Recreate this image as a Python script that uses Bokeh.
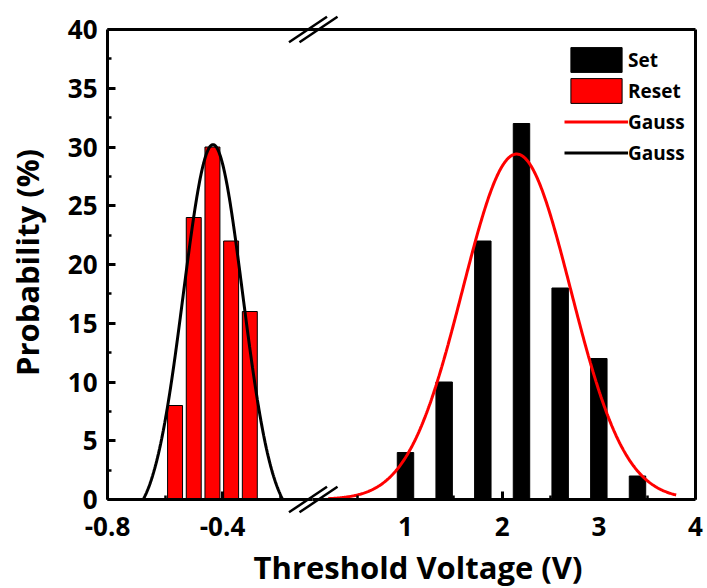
import numpy as np
from bokeh.plotting import figure
from bokeh.models import (Range1d, FixedTicker, LinearAxis, Legend, LegendItem,
                          Label, CustomJSTickFormatter)
from bokeh.embed import file_html
from bokeh.resources import INLINE

# ---------------- data ----------------
reset_voltage = [-0.565, -0.50, -0.435, -0.37, -0.305]
reset_prob = [8, 24, 30, 22, 16]
set_voltage = [1.0, 1.4, 1.8, 2.2, 2.6, 3.0, 3.4]
set_prob = [4, 10, 22, 32, 18, 12, 2]

# Gauss fits: y = y0 + H*exp(-2*(x-xc)^2/w^2), drawn over [from, to] where y >= 0
reset_gauss_y0, reset_gauss_H, reset_gauss_xc, reset_gauss_w = -2.0, 32.2, -0.433, 0.206
reset_gauss_from, reset_gauss_to = -0.75, -0.12
set_gauss_y0, set_gauss_H, set_gauss_xc, set_gauss_w = 0.0, 29.4, 2.15, 1.12
set_gauss_from, set_gauss_to = 0.2, 3.8

y_ticks = [0, 5, 10, 15, 20, 25, 30, 35, 40]
y_minor = [2.5, 7.5, 12.5, 17.5, 22.5, 27.5, 32.5, 37.5]
left_ticks = [-0.8, -0.4]
left_minor = [-0.6, -0.2]
right_ticks = [1, 2, 3, 4]
right_minor = [0.5, 1.5, 2.5, 3.5]

x_label = "Threshold Voltage (V)"
y_label = "Probability (%)"
legend_labels = ["Set", "Reset", "Gauss", "Gauss"]


def gauss_curve(y0, H, xc, w, x0, x1):
    xs = np.linspace(x0, x1, 500)
    ys = y0 + H * np.exp(-2.0 * (xs - xc) ** 2 / w ** 2)
    keep = ys >= 0
    return xs[keep], ys[keep]


# ---------------- layout (pixels) ----------------
# The plot frame covers the whole canvas; all axes are fixed at data locations
# so nothing (tick labels, titles) gets clipped.
FONT = "Open Sans"
RED = "#ff0000"
W, H = 705, 586
X_M08_PX, X4_PX = 107, 695          # x pixel of -0.8 (left edge) and of 4 (right edge)
Y40_PX, Y0_PX = 29, 499             # y pixel of 40 and of 0
BREAK_PX = 312                      # axis break position
LEFT_PX_PER_V = 287.5
RIGHT_PX_PER_V = 96.67
PX_PER_Y = (Y0_PX - Y40_PX) / 40.0

y_range = Range1d(-(H - Y0_PX) / PX_PER_Y, 40 + Y40_PX / PX_PER_Y)
main_xr = Range1d(4.0 - X4_PX / RIGHT_PX_PER_V, 4.0 + (W - X4_PX) / RIGHT_PX_PER_V)
left_xr = Range1d(-0.8 - X_M08_PX / LEFT_PX_PER_V, -0.8 + (W - X_M08_PX) / LEFT_PX_PER_V)
break_left = -0.8 + (BREAK_PX - X_M08_PX) / LEFT_PX_PER_V
break_right = 4.0 - (X4_PX - BREAK_PX) / RIGHT_PX_PER_V


def px_to_main(px):
    return 4.0 - (X4_PX - px) / RIGHT_PX_PER_V


p = figure(width=W, height=H, x_range=main_xr, y_range=y_range,
           output_backend="svg", toolbar_location=None,
           x_axis_location=None, y_axis_location=None, min_border=0)
p.extra_x_ranges = {"left": left_xr}
p.outline_line_color = None
p.grid.visible = False
p.background_fill_color = "white"
p.border_fill_color = "white"


def style_axis(ax, ticks=None, minor=None, show=True):
    ax.axis_line_width = 3
    ax.axis_line_color = "black"
    if show:
        ax.ticker = FixedTicker(ticks=ticks, minor_ticks=minor)
        ax.major_tick_line_width = 3
        ax.minor_tick_line_width = 2.5
        ax.major_tick_in = 8
        ax.major_tick_out = 0
        ax.minor_tick_in = 4
        ax.minor_tick_out = 0
        ax.major_label_text_font = FONT
        ax.major_label_text_font_style = "bold"
        ax.major_label_text_font_size = "26px"
        ax.major_label_text_color = "black"
        ax.major_label_standoff = 10
    else:
        ax.ticker = FixedTicker(ticks=[], minor_ticks=[])
        ax.major_tick_line_color = None
        ax.minor_tick_line_color = None
        ax.major_label_standoff = 0
        ax.axis_label_standoff = 0
        ax.major_label_text_font_size = "0px"


# y axis at x = -0.8
ya = LinearAxis(x_range_name="left", fixed_location=-0.8, bounds=(0, 40))
style_axis(ya, y_ticks, y_minor)
p.add_layout(ya, "left")

# bottom axis, left segment
xa_l = LinearAxis(x_range_name="left", fixed_location=0, bounds=(-0.8, break_left))
style_axis(xa_l, left_ticks, left_minor)
xa_l.formatter = CustomJSTickFormatter(code="return tick.toFixed(1)")
xa_l.major_label_standoff = 17
p.add_layout(xa_l, "below")

# bottom axis, right segment
xa_r = LinearAxis(fixed_location=0, bounds=(break_right, 4.0))
style_axis(xa_r, right_ticks, right_minor)
xa_r.major_label_standoff = 17
p.add_layout(xa_r, "below")

# top and right frame lines
ta = LinearAxis(x_range_name="left", fixed_location=40,
                bounds=(-0.8, -0.8 + (X4_PX - X_M08_PX) / LEFT_PX_PER_V))
style_axis(ta, show=False)
p.add_layout(ta, "above")
ra = LinearAxis(fixed_location=4.0, bounds=(0, 40))
style_axis(ra, show=False)
p.add_layout(ra, "right")

# ---------------- data glyphs ----------------
r_reset = p.vbar(x=reset_voltage, top=reset_prob, width=0.052, bottom=0,
                 fill_color=RED, line_color="black", line_width=1, x_range_name="left")
gx, gy = gauss_curve(reset_gauss_y0, reset_gauss_H, reset_gauss_xc, reset_gauss_w,
                     reset_gauss_from, reset_gauss_to)
r_resetfit = p.line(gx, gy, color="black", line_width=3, x_range_name="left")

r_set = p.vbar(x=set_voltage, top=set_prob, width=0.17, bottom=0,
               fill_color="black", line_color="black", line_width=1)
sx, sy = gauss_curve(set_gauss_y0, set_gauss_H, set_gauss_xc, set_gauss_w,
                     set_gauss_from, set_gauss_to)
r_setfit = p.line(sx, sy, color=RED, line_width=3)

# ---------------- axis-break marks ----------------
dy = 12.8 / PX_PER_Y
for yc in (0, 40):
    p.segment(x0=[px_to_main(288.5), px_to_main(299)],
              y0=[yc - dy, yc - dy],
              x1=[px_to_main(326.5), px_to_main(337)],
              y1=[yc + dy, yc + dy],
              line_color="black", line_width=2.5)

# ---------------- legend ----------------
legend = Legend(items=[
    LegendItem(label=legend_labels[0], renderers=[r_set]),
    LegendItem(label=legend_labels[1], renderers=[r_reset]),
    LegendItem(label=legend_labels[2], renderers=[r_setfit]),
    LegendItem(label=legend_labels[3], renderers=[r_resetfit]),
], location=(564, H - (44 + 4 * 31)))
legend.padding = 0
legend.margin = 0
legend.spacing = 0
legend.glyph_width = 64
legend.glyph_height = 31
legend.label_height = 31
legend.label_standoff = 0
legend.label_text_font = FONT
legend.label_text_font_style = "bold"
legend.label_text_font_size = "19px"
legend.label_text_color = "black"
legend.border_line_color = None
legend.background_fill_alpha = 0
p.add_layout(legend)

# ---------------- axis titles ----------------
p.add_layout(Label(x=417.5, y=H - 566, x_units="screen", y_units="screen",
                   text=x_label, text_align="center", text_baseline="middle",
                   text_font=FONT, text_font_style="bold",
                   text_font_size="31px", text_color="black"))
p.add_layout(Label(x=26, y=H - 262, x_units="screen", y_units="screen", angle=np.pi / 2,
                   text=y_label, text_align="center", text_baseline="middle",
                   text_font=FONT, text_font_style="bold",
                   text_font_size="31px", text_color="black"))

open("out.html", "w").write(file_html(p, INLINE))
